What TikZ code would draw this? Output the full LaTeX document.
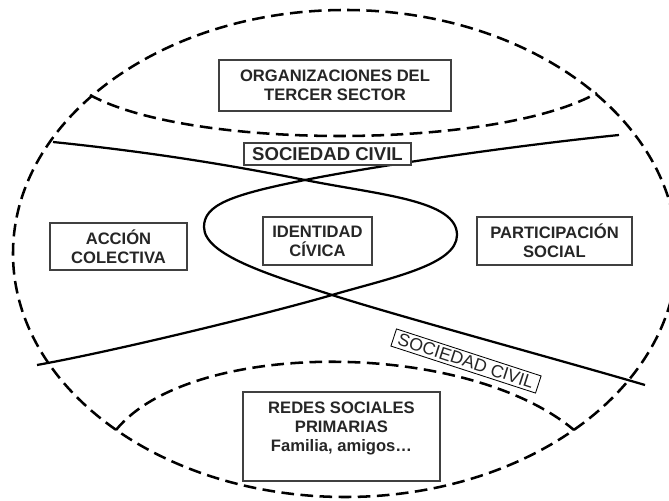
\documentclass[tikz,border=0pt]{standalone}
\usepackage{fontspec}
\setmainfont{Liberation Sans}
\usetikzlibrary{positioning}

\begin{document}
\begin{tikzpicture}[x=0.025cm, y=0.025cm,
    box/.style={draw=black!75, line width=0.9pt, fill=white, align=center, inner sep=0pt,
        text=black!85, font=\bfseries\fontsize{11.8}{13.5}\selectfont},
    zone/.style={line width=1.8pt, dash pattern=on 9pt off 4.6pt},
    band/.style={line width=1.6pt}]
        \useasboundingbox (0,0) rectangle (669,500);
        \clip (0,0) rectangle (669,500);
        % Outer ring and the two caps
        \draw[zone] (345,246.5) ellipse [x radius=332, y radius=243.5];
        \draw[zone] (90,405) .. controls (190,350) and (495,350) .. (597,407);
        \draw[zone] (116,70) .. controls (190,161) and (465,161) .. (574,70);
        % Crossing points of the two bands
        \coordinate (ul) at (53,358);
        \coordinate (ur) at (619,365);
        \coordinate (ll) at (37,135);
        \coordinate (lr) at (645,115);
        \coordinate (xtop) at (305,320);
        \coordinate (xbot) at (332,205);
        \coordinate (lobeL) at (204,273);
        \coordinate (lobeR) at (457,265);
        % First band
        \draw[band] (ul) .. controls (150,348) and (230,335) .. (xtop)
            .. controls (380,305) and (457,300) .. (lobeR)
            .. controls (457,235) and (390,222) .. (xbot)
            .. controls (274,188) and (120,150) .. (ll);
        % Second band
        \draw[band] (ur) .. controls (520,355) and (380,335) .. (xtop)
            .. controls (230,305) and (204,295) .. (lobeL)
            .. controls (204,245) and (270,225) .. (xbot)
            .. controls (394,185) and (560,140) .. (lr);
        % Boxes
        \node[box, minimum width=5.8cm, minimum height=1.275cm] (tercer) at (335,414.5)
            {ORGANIZACIONES DEL\\TERCER SECTOR};
        \node[box, minimum width=4.175cm, minimum height=0.55cm,
            font=\bfseries\fontsize{13.2}{15}\selectfont] (civilA) at (327.5,346) {SOCIEDAD CIVIL};
        \node[box, minimum width=3.425cm, minimum height=1.175cm] (accion) at (118.5,253.5)
            {ACCIÓN\\COLECTIVA};
        \node[box, minimum width=2.725cm, minimum height=1.2cm] (identidad) at (317.5,259)
            {IDENTIDAD\\CÍVICA};
        \node[box, minimum width=3.875cm, minimum height=1.2cm] (participacion) at (554.5,259)
            {PARTICIPACIÓN\\SOCIAL};
        \node[box, minimum width=4.925cm, minimum height=2.225cm] (redes) at (341.5,63.5)
            {REDES SOCIALES\\PRIMARIAS\\Familia, amigos…\\~};
        \node[draw=black, line width=0.6pt, fill=white, rotate=-18, inner sep=1pt,
            minimum width=3.8cm, minimum height=0.45cm, text=black!85,
            font=\fontsize{12.6}{14}\selectfont] (civilB) at (466,139) {SOCIEDAD CIVIL};
\end{tikzpicture}
\end{document}
